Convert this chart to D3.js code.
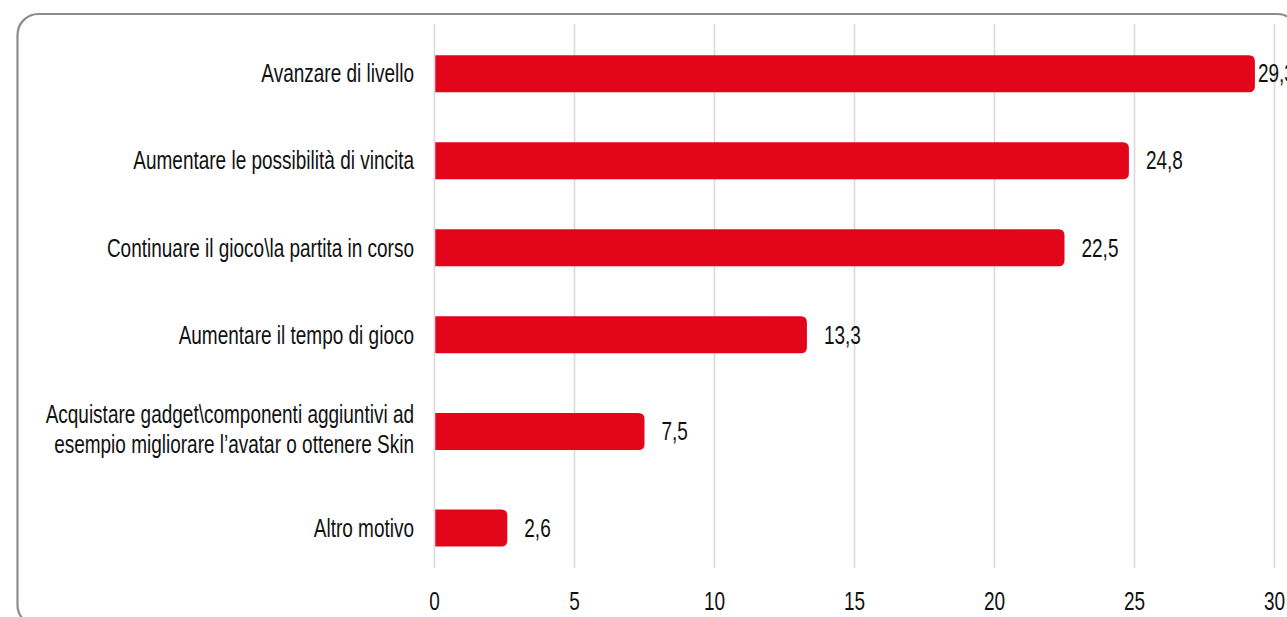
<!DOCTYPE html>
<html>
<head>
<meta charset="utf-8">
<script src="https://cdn.jsdelivr.net/npm/d3@7"></script>
<style>
  html, body { margin: 0; padding: 0; background: #fff; }
  svg { display: block; }
  text { font-family: "Liberation Sans Narrow", "Liberation Sans", Arial, sans-serif; fill: #111; }
</style>
</head>
<body>
<svg id="chart" width="1287" height="617"></svg>
<script>
// Motivi di spesa nei videogiochi (%)
const categories = [
  "Avanzare di livello",
  "Aumentare le possibilità di vincita",
  "Continuare il gioco\\la partita in corso",
  "Aumentare il tempo di gioco",
  "Acquistare gadget\\componenti aggiuntivi ad\nesempio migliorare l’avatar o ottenere Skin",
  "Altro motivo"
];
const values = [29.3, 24.8, 22.5, 13.3, 7.5, 2.6];
const tickValues = [0, 5, 10, 15, 20, 25, 30];

const fmt = v => String(v).replace(".", ",");

const svg = d3.select("#chart");
const FS = 25;          // font size
const SX = 0.76;        // horizontal condensing of the typeface

// frame
svg.append("rect")
  .attr("x", 17.5).attr("y", 14)
  .attr("width", 1281).attr("height", 612)
  .attr("rx", 21).attr("ry", 21)
  .attr("fill", "none")
  .attr("stroke", "#8c8c8c")
  .attr("stroke-width", 2.2);

const x = d3.scaleLinear().domain([0, 30]).range([434.5, 1274.5]);

// rows: multi-line labels get a little more room around them
const lines = categories.map(c => c.split("\n"));
const slots = [0];
for (let i = 1; i < lines.length; i++) {
  const extra = Math.max(lines[i].length, lines[i - 1].length) - 1;
  slots.push(slots[i - 1] + 1 + 0.11 * extra);
}
const y = d3.scaleLinear().domain([0, slots[slots.length - 1]]).range([73.7, 528]);
const barH = 37;
const plotTop = 24, plotBottom = 568;

// vertical grid
svg.append("g")
  .selectAll("line")
  .data(tickValues)
  .join("line")
  .attr("x1", d => x(d)).attr("x2", d => x(d))
  .attr("y1", plotTop).attr("y2", plotBottom)
  .attr("stroke", "#d9d9d9")
  .attr("stroke-width", 1.6);

// bars with rounded ends on the right
const r = 6;
function barPath(x0, x1, yc) {
  const t = yc - barH / 2, b = yc + barH / 2;
  const rr = Math.min(r, (x1 - x0) / 2);
  return `M${x0},${t}H${x1 - rr}Q${x1},${t} ${x1},${t + rr}V${b - rr}Q${x1},${b} ${x1 - rr},${b}H${x0}Z`;
}
svg.append("g")
  .selectAll("path")
  .data(values)
  .join("path")
  .attr("d", (d, i) => barPath(x(0) + 0.8, x(d), y(slots[i])))
  .attr("fill", "#e3051a");

// helper for condensed text
function condensedText(sel, anchor) {
  return sel.append("text")
    .attr("transform", `scale(${SX},1)`)
    .attr("text-anchor", anchor)
    .attr("font-size", FS);
}

// value labels: outside the bar end, pulled closer when near the plot edge
const valG = svg.append("g");
values.forEach((v, i) => {
  const gap = x(v) + 17 > x(29) ? 3 : 17;
  const g = valG.append("g").attr("transform", `translate(${x(v) + gap},${y(slots[i])})`);
  condensedText(g, "start").attr("dy", "0.35em").text(fmt(v));
});

// category labels
const catG = svg.append("g");
lines.forEach((ls, i) => {
  const yc = y(slots[i]);
  ls.forEach((ln, j) => {
    const yy = yc + (j - (ls.length - 1) / 2) * 30 - (ls.length > 1 ? 2 : 0);
    const g = catG.append("g").attr("transform", `translate(414,${yy})`);
    condensedText(g, "end").attr("dy", "0.35em").text(ln);
  });
});

// x axis tick labels
const axG = svg.append("g");
tickValues.forEach(t => {
  const g = axG.append("g").attr("transform", `translate(${x(t)},610)`);
  condensedText(g, "middle").text(t);
});
</script>
</body>
</html>
